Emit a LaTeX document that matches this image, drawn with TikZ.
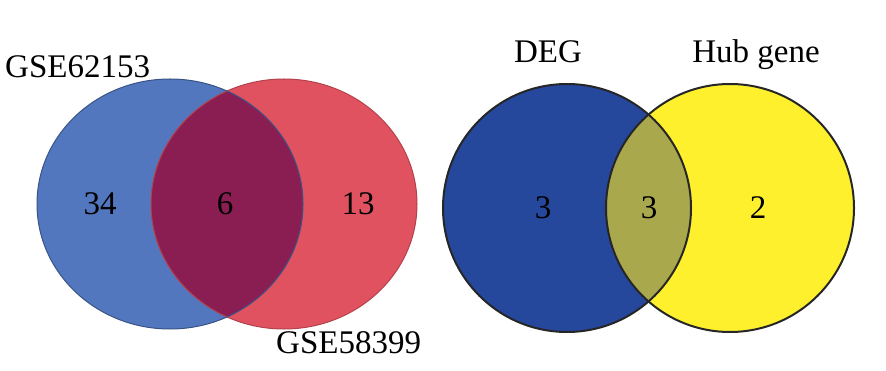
\documentclass[tikz,border=0pt]{standalone}
\usepackage{fontspec}
\setmainfont{Liberation Serif}
\begin{document}
\begin{tikzpicture}[x=1pt,y=-1pt,
  lbl/.style={font=\fontsize{33}{35}\selectfont, inner sep=0pt},
  num/.style={font=\fontsize{33}{35}\selectfont, inner sep=0pt}]
\definecolor{lblue}{HTML}{5277BF}
\definecolor{lred}{HTML}{E0525F}
\definecolor{lmid}{HTML}{8A1E52}
\definecolor{rblue}{HTML}{25479C}
\definecolor{ryel}{HTML}{FFF02E}
\definecolor{rmid}{HTML}{A9A84C}
\useasboundingbox (0,0) rectangle (886,371);
% left venn
\fill[lblue] (170,204) ellipse [x radius=133, y radius=125];
\fill[lred] (284,204) ellipse [x radius=133, y radius=125];
\begin{scope}
\clip (170,204) ellipse [x radius=133, y radius=125];
\fill[lmid] (284,204) ellipse [x radius=133, y radius=125];
\end{scope}
\draw[line width=1pt, color=lred!80!black] (284,204) ellipse [x radius=133, y radius=125];
\draw[line width=1pt, color=lblue!70!black] (170,204) ellipse [x radius=133, y radius=125];
\node[lbl, anchor=base west] (g1) at (5,78) {GSE62153};
\node[lbl, anchor=base west] (g2) at (276,353) {GSE58399};
\node[num] (n34) at (100,204) {34};
\node[num] (n6) at (225,204) {6};
\node[num] (n13) at (358,204) {13};
% right venn
\fill[rblue] (567,208) circle [radius=124];
\fill[ryel] (730,208) circle [radius=124];
\begin{scope}
\clip (567,208) circle [radius=124];
\fill[rmid] (730,208) circle [radius=124];
\end{scope}
\draw[line width=2pt, black!85] (567,208) circle [radius=124];
\draw[line width=2pt, black!85] (730,208) circle [radius=124];
\node[lbl, anchor=base] (deg) at (548,63) {DEG};
\node[lbl, anchor=base] (hub) at (756,63) {Hub gene};
\node[num] (r3a) at (543,208) {3};
\node[num] (r3b) at (649,208) {3};
\node[num] (r2) at (758,208) {2};
\end{tikzpicture}
\end{document}
